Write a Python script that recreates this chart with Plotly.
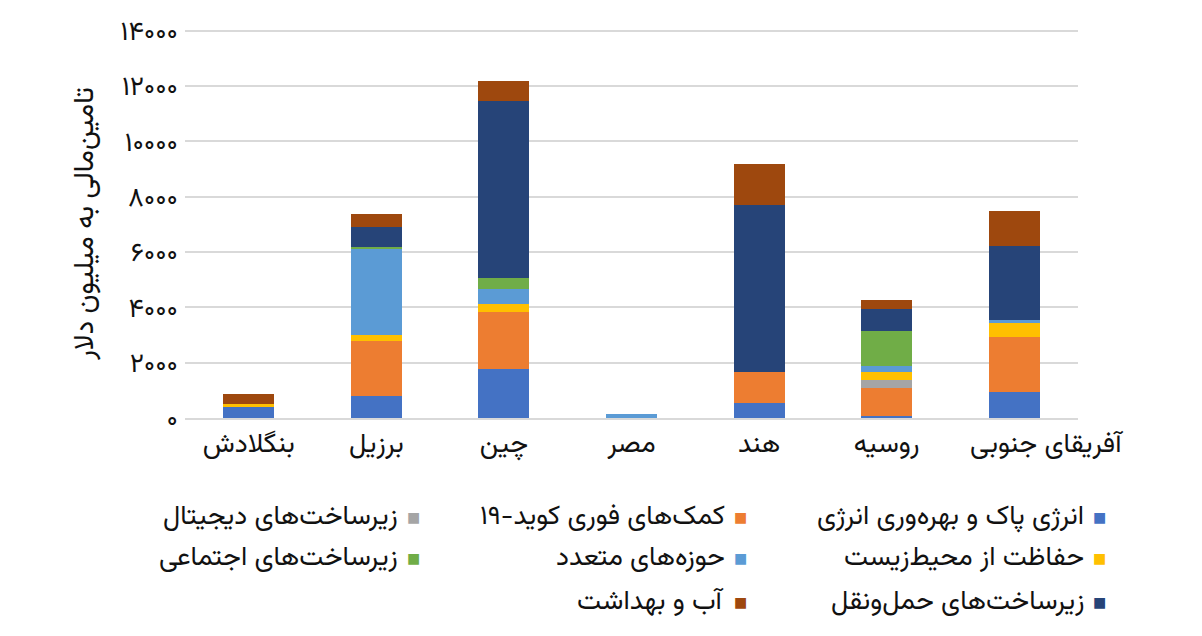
import plotly.graph_objects as go

countries = ["بنگلادش", "برزیل", "چین", "مصر", "هند", "روسیه", "آفریقای جنوبی"]

series_names = [
    "انرژی پاک و بهره‌وری انرژی",
    "کمک‌های فوری کوید-۱۹",
    "زیرساخت‌های دیجیتال",
    "حفاظت از محیط‌زیست",
    "حوزه‌های متعدد",
    "زیرساخت‌های اجتماعی",
    "زیرساخت‌های حمل‌ونقل",
    "آب و بهداشت",
]

clean_energy = [385, 785, 1760, 0, 545, 85, 950]
covid_aid = [0, 1990, 2060, 0, 1105, 990, 1980]
digital = [0, 0, 0, 0, 0, 300, 0]
environment = [135, 215, 300, 0, 0, 300, 495]
multi_sector = [0, 3150, 545, 130, 0, 205, 120]
social = [0, 40, 385, 0, 0, 1275, 0]
transport = [0, 710, 6410, 0, 6055, 785, 2690]
water = [340, 485, 725, 0, 1485, 315, 1245]

values = [clean_energy, covid_aid, digital, environment, multi_sector, social, transport, water]
colors = ["#4472C4", "#ED7D31", "#A5A5A5", "#FFC000", "#5B9BD5", "#70AD47", "#264478", "#9E480E"]

y_ticks = [0, 2000, 4000, 6000, 8000, 10000, 12000, 14000]
fa_digits = str.maketrans("0123456789", "۰۱۲۳۴۵۶۷۸۹")
y_ticktext = [str(v).translate(fa_digits) for v in y_ticks]

# the last label sits right of its bar in the original, so it is drawn separately
x_ticktext = countries[:-1] + [""]

font = "Vazirmatn, Vazir, Noto Sans Arabic, Noto Naskh Arabic, DejaVu Sans"

fig = go.Figure()
for name, vals, col in zip(series_names, values, colors):
    fig.add_trace(go.Bar(x=countries, y=vals, name=name, marker_color=col,
                         marker_line_width=0, showlegend=False))

# the page body has an 8px margin, so work in figure pixels
OFF = 8
W, H = 1202 - 2 * OFF, 636 - 2 * OFF
y_top = 14060  # a little headroom so the 14000 gridline is drawn
L, R, B = 185 - OFF, 1078 - OFF, 418 - OFF
T = B - (418 - 31) * y_top / 14000

def px(x):
    return (x - OFF - L) / (R - L)

def py(y):
    return (B - (y - OFF)) / (B - T)

# custom right-to-left legend
legend_cols = [1099, 740, 413]
legend_rows = [517, 558, 602]
annotations = []
for i, (name, col) in enumerate(zip(series_names, colors)):
    r, c = divmod(i, 3)
    sx, sy = legend_cols[c], legend_rows[r]
    annotations.append(dict(x=px(sx), y=py(sy), xref="paper", yref="paper",
                            text="■", showarrow=False, xanchor="center", yanchor="middle",
                            font=dict(family="DejaVu Sans", size=14, color=col)))
    annotations.append(dict(x=px(sx - 13), y=py(sy), xref="paper", yref="paper",
                            text=name, showarrow=False, xanchor="right", yanchor="middle",
                            font=dict(family=font, size=27, color="#111111")))

annotations.append(dict(x=countries[-1], y=0, xref="x", yref="paper",
                        text=countries[-1], showarrow=False, xanchor="center", yanchor="middle",
                        xshift=33, yshift=-27,
                        font=dict(family=font, size=27, color="#111111")))

fig.update_layout(
    barmode="stack",
    bargap=0.6,
    width=W,
    height=H,
    margin=dict(l=L, r=W - R, t=T, b=H - B),
    plot_bgcolor="white",
    paper_bgcolor="white",
    font=dict(family=font, color="#111111"),
    annotations=annotations,
    xaxis=dict(tickvals=countries, ticktext=x_ticktext, tickangle=0,
               range=[-0.5, len(countries) - 0.5],
               tickfont=dict(size=27), showgrid=False, showline=True,
               linecolor="#D9D9D9", linewidth=1.5, ticks="", automargin=False),
    yaxis=dict(range=[0, y_top], tickvals=y_ticks, ticktext=y_ticktext,
               tickfont=dict(size=27), gridcolor="#D9D9D9", gridwidth=1.5,
               zeroline=False, ticks="", ticklabelstandoff=6, automargin=False,
               title=dict(text="تامین‌مالی به میلیون دلار", font=dict(size=28), standoff=18)),
)

fig.write_html("out.html", config={"displayModeBar": False})
